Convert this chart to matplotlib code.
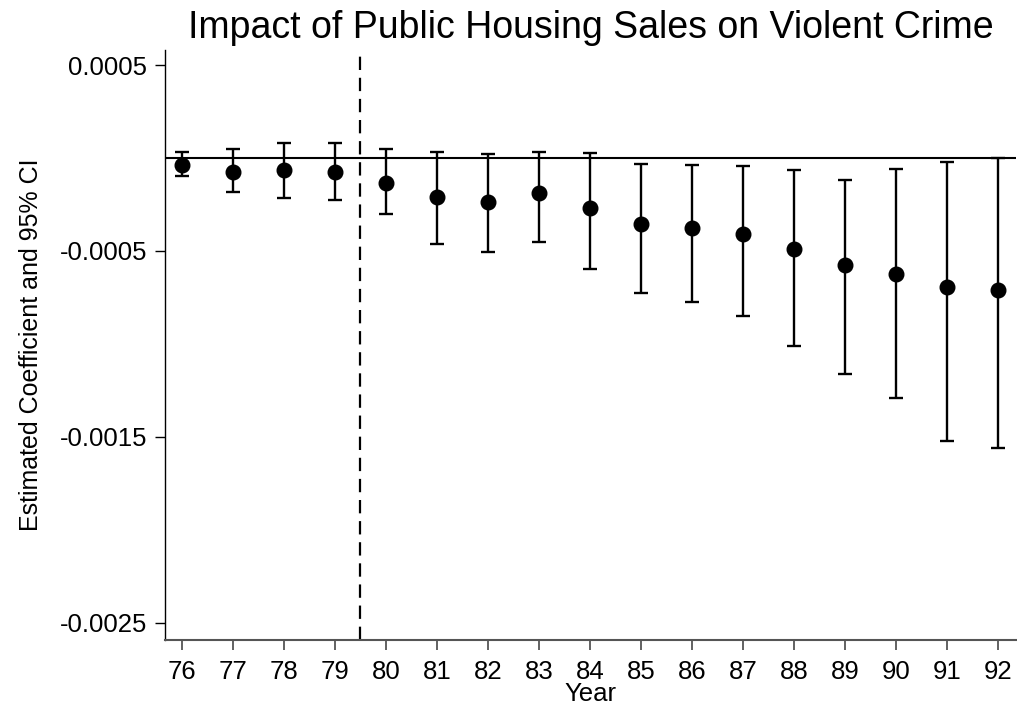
import matplotlib
matplotlib.use("Agg")
import matplotlib.pyplot as plt
import numpy as np

plt.rcParams['font.family'] = ['Liberation Sans', 'DejaVu Sans']

# Event-study coefficients by year with 95% confidence bounds
years = [76, 77, 78, 79, 80, 81, 82, 83, 84, 85, 86, 87, 88, 89, 90, 91, 92]
coef = [-0.000038, -0.000074, -0.000063, -0.000077, -0.000132, -0.000209,
        -0.000236, -0.000190, -0.000267, -0.000356, -0.000374, -0.000408,
        -0.000489, -0.000574, -0.000626, -0.000695, -0.000711]
ci_hi = [0.000031, 0.000049, 0.000083, 0.000083, 0.000050, 0.000034,
         0.000022, 0.000034, 0.000025, -0.000031, -0.000038, -0.000045,
         -0.000067, -0.000117, -0.000060, -0.000023, 0.000000]
ci_lo = [-0.000099, -0.000184, -0.000213, -0.000226, -0.000301, -0.000462,
         -0.000505, -0.000451, -0.000599, -0.000727, -0.000772, -0.000852,
         -0.001009, -0.001160, -0.001292, -0.001525, -0.001558]
y_ticks = [0.0005, -0.0005, -0.0015, -0.0025]
y_tick_labels = ["0.0005", "-0.0005", "-0.0015", "-0.0025"]
treatment_start = 79.5

W, H = 1017, 711
fig = plt.figure(figsize=(W / 100, H / 100), dpi=100)
ax = fig.add_axes([165 / W, (H - 640) / H, (1016 - 165) / W, (640 - 50) / H])

coef_a = np.array(coef)
yerr = np.vstack([coef_a - np.array(ci_lo), np.array(ci_hi) - coef_a])

ax.axhline(0, color='black', lw=1.5, zorder=1)
ax.axvline(treatment_start, color='black', lw=1.6, ls=(0, (6, 3.5)), zorder=1)
ax.errorbar(years, coef, yerr=yerr, fmt='o', color='black', ecolor='black',
            elinewidth=1.7, capsize=4.8, capthick=1.7, markersize=10.5,
            zorder=3)

ax.set_xlim(75.67, 92.35)
ax.set_ylim(-0.002593, 0.000581)
ax.set_xticks(years)
ax.set_xticklabels([str(y) for y in years])
ax.set_yticks(y_ticks)
ax.set_yticklabels(y_tick_labels)

for s in ['top', 'right']:
    ax.spines[s].set_visible(False)
ax.spines['left'].set_color('black')
ax.spines['left'].set_linewidth(1.0)
ax.spines['bottom'].set_color('#555555')
ax.spines['bottom'].set_linewidth(1.5)

ax.tick_params(axis='x', direction='out', length=7.2, width=1.3, color='#555555',
               labelsize=18.5, pad=7)
ax.tick_params(axis='y', direction='out', length=7.2, width=1.0, color='black',
               labelsize=18.5, pad=5.5)

ax.set_xlabel("Year", fontsize=18.5)
ax.xaxis.set_label_coords(0.5, (640 - 682) / 590)
ax.set_ylabel("Estimated Coefficient and 95% CI", fontsize=18)
ax.yaxis.set_label_coords((43 - 165) / 851, 0.5)

fig.text((165 + 1016) / 2 / W, (H - 28) / H,
         "Impact of Public Housing Sales on Violent Crime",
         ha='center', va='center', fontsize=27)

fig.savefig("out.png", dpi=100, facecolor='white')
